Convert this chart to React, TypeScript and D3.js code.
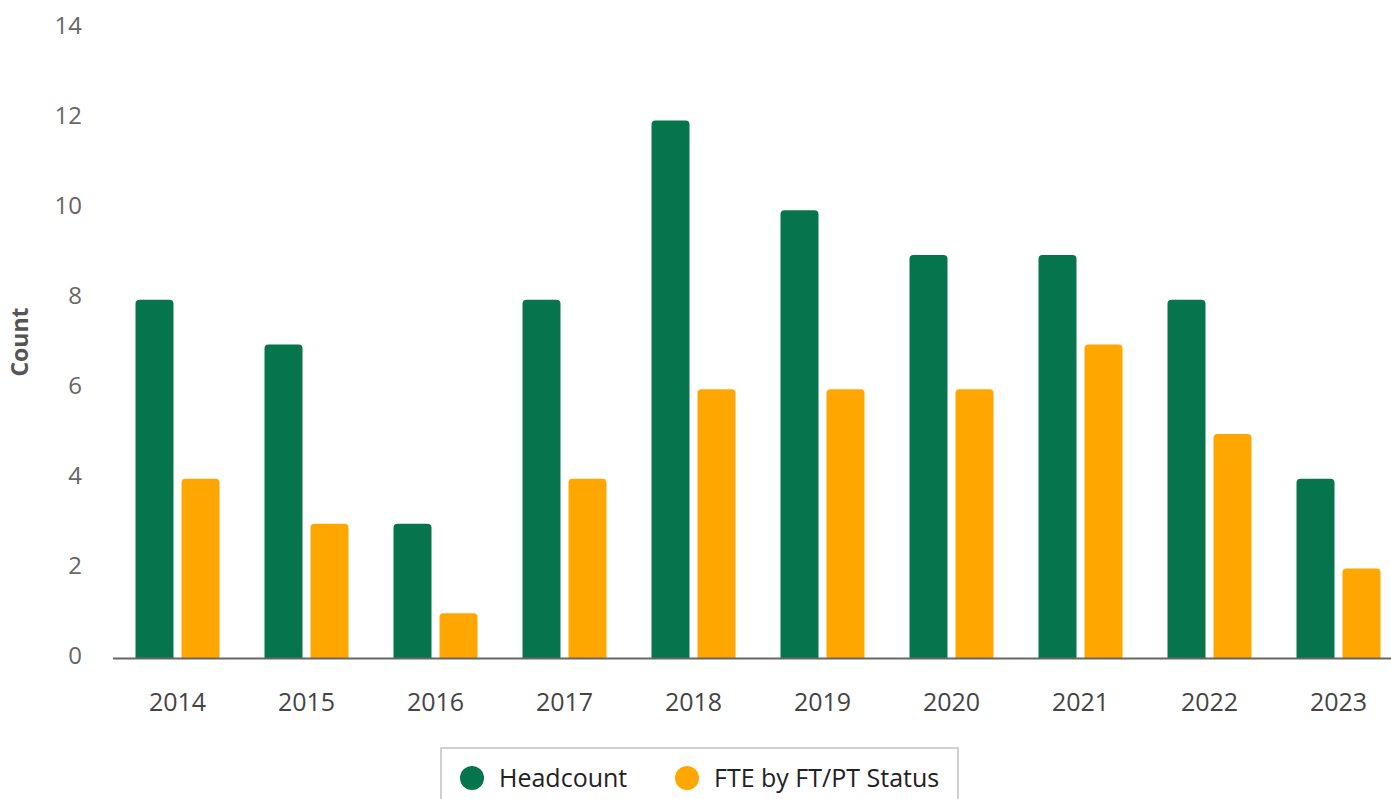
import React, { useEffect, useRef } from "react";
import * as d3 from "d3";

const years = ["2014", "2015", "2016", "2017", "2018", "2019", "2020", "2021", "2022", "2023"];
const headcount = [8, 7, 3, 8, 12, 10, 9, 9, 8, 4];
const fte = [4, 3, 1, 4, 6, 6, 6, 7, 5, 2];
const seriesNames = ["Headcount", "FTE by FT/PT Status"];
const seriesColors = ["#06754e", "#ffa600"];
const yTicks = [0, 2, 4, 6, 8, 10, 12, 14];

const W = 1391;
const H = 799;
const FONT = "'Open Sans', sans-serif";

// rounded top corners only
function barPath(x: number, y: number, w: number, h: number, r: number) {
  r = Math.min(r, h, w / 2);
  return `M${x},${y + h}V${y + r}Q${x},${y} ${x + r},${y}H${x + w - r}Q${x + w},${y} ${x + w},${y + r}V${y + h}Z`;
}

const App = () => {
  const container = useRef<HTMLDivElement>(null);

  useEffect(() => {
    const el = container.current;
    if (!el) return;
    el.innerHTML = "";

    const svg = d3.select(el)
      .append("svg")
      .attr("width", W)
      .attr("height", H)
      .style("display", "block");

    const y = d3.scaleLinear().domain([0, 14]).range([658, 31]);
    // tick labels sit a little higher than the bar scale in the original
    const yLabel = d3.scaleLinear().domain([0, 14]).range([656, 26]);
    const x = d3.scaleBand().domain(years).range([113, 1403]).padding(0);
    const x1 = d3.scaleBand()
      .domain(seriesNames)
      .range([0, x.bandwidth()])
      .paddingInner(8 / 46)
      .paddingOuter(0.489);

    // y tick labels
    svg.append("g")
      .selectAll("text")
      .data(yTicks)
      .enter()
      .append("text")
      .attr("x", 82)
      .attr("y", (d) => yLabel(d))
      .attr("dy", "0.35em")
      .attr("text-anchor", "end")
      .style("font-family", FONT)
      .style("font-size", "24px")
      .style("fill", "#666")
      .text((d) => d);

    // y title
    svg.append("text")
      .attr("transform", "translate(28,342) rotate(-90)")
      .attr("text-anchor", "middle")
      .style("font-family", FONT)
      .style("font-size", "23px")
      .style("font-weight", "bold")
      .style("fill", "#555")
      .text("Count");

    const data = [headcount, fte];
    data.forEach((vals, si) => {
      svg.append("g")
        .selectAll("path")
        .data(vals)
        .enter()
        .append("path")
        .attr("d", (d, i) => {
          const bx = (x(years[i]) as number) + (x1(seriesNames[si]) as number);
          const top = y(d);
          return barPath(bx, top, x1.bandwidth(), y(0) - top, 4);
        })
        .style("fill", seriesColors[si]);
    });

    // x axis line
    svg.append("line")
      .attr("x1", 113)
      .attr("x2", W)
      .attr("y1", y(0) + 0.5)
      .attr("y2", y(0) + 0.5)
      .attr("stroke", "#666")
      .attr("stroke-width", 2);

    // x labels
    svg.append("g")
      .selectAll("text")
      .data(years)
      .enter()
      .append("text")
      .attr("x", (d) => (x(d) as number) + x.bandwidth() / 2)
      .attr("y", 711)
      .attr("text-anchor", "middle")
      .style("font-family", FONT)
      .style("font-size", "25px")
      .style("fill", "#444")
      .text((d) => d);

    // legend
    const legend = svg.append("g");
    legend.append("rect")
      .attr("x", 441)
      .attr("y", 748)
      .attr("width", 517)
      .attr("height", 80)
      .attr("fill", "white")
      .attr("stroke", "#d0d0d0")
      .attr("stroke-width", 2);

    const legendX = [472, 687];
    seriesNames.forEach((name, i) => {
      legend.append("circle")
        .attr("cx", legendX[i])
        .attr("cy", 778)
        .attr("r", 12)
        .attr("fill", seriesColors[i]);
      legend.append("text")
        .attr("x", legendX[i] + 27)
        .attr("y", 778)
        .attr("dy", "0.35em")
        .style("font-family", FONT)
        .style("font-size", "25px")
        .style("fill", "#222")
        .text(name);
    });
  }, []);

  return (
    <div ref={container} style={{ position: "absolute", left: 0, top: 0 }}></div>
  );
};

export default App;
